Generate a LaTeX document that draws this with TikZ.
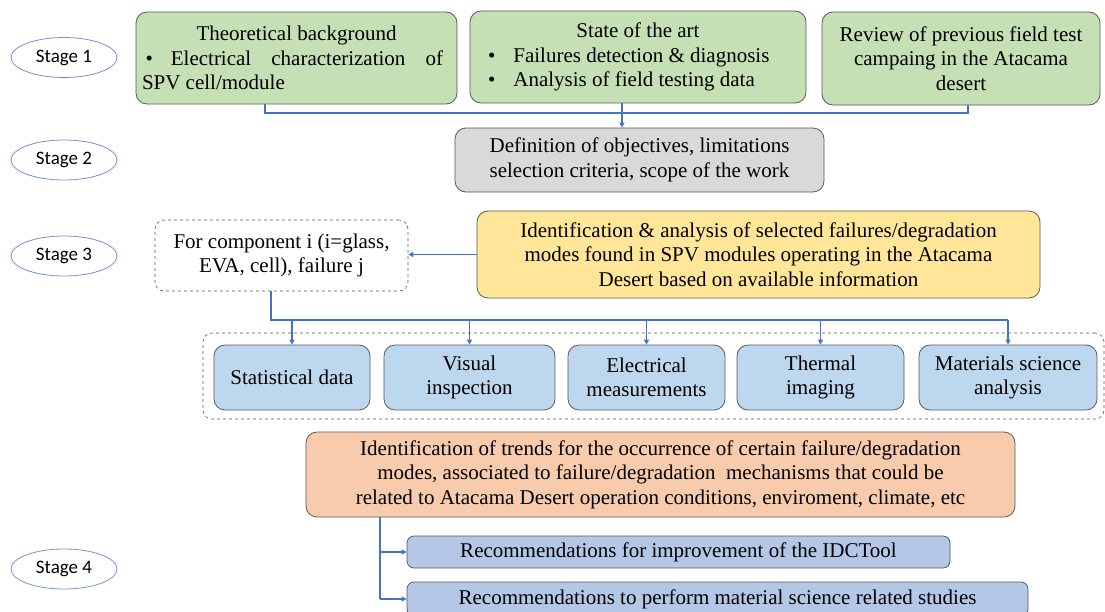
\documentclass[tikz,border=0pt]{standalone}
\usepackage{fontspec}
\setmainfont{Liberation Serif}
\newfontfamily\stagefont{Carlito}
\usetikzlibrary{shapes.geometric,arrows.meta,calc}
\definecolor{gfill}{HTML}{C5E0B4}
\definecolor{grfill}{HTML}{D9D9D9}
\definecolor{yfill}{HTML}{FFE699}
\definecolor{bfill}{HTML}{BDD7EE}
\definecolor{rfill}{HTML}{B4C7E7}
\definecolor{ofill}{HTML}{F8CBAD}
\definecolor{conn}{HTML}{4472C4}
\definecolor{ell}{HTML}{7293D0}
\definecolor{edge}{HTML}{595959}
\begin{document}
\begin{tikzpicture}[x=1pt,y=-1pt,
  box/.style={draw=edge, line width=0.8pt, rounded corners=11pt, align=center, inner sep=2pt,
    font=\fontsize{21}{25.5}\selectfont},
  stage/.style={ellipse, draw=ell, line width=0.8pt, minimum width=106pt, minimum height=40pt,
    inner sep=0pt, font=\stagefont\fontsize{19}{22}\selectfont},
  dbox/.style={draw=edge, dashed, line width=0.6pt, rounded corners=9pt},
  con/.style={draw=conn, line width=1.1pt},
  arr/.style={con, -{Triangle[length=5pt,width=5pt]}}]
\useasboundingbox (0,0) rectangle (1105,611);
% stages
\node[stage] (st1) at (64,57.5) {Stage 1};
\node[stage] (st2) at (64,160) {Stage 2};
\node[stage] (st3) at (64,256) {Stage 3};
\node[stage] (st4) at (64,569) {Stage 4};
% stage 1 boxes
\node[box, fill=gfill, minimum width=321pt, minimum height=92pt] (b1) at (296.5,58)
  {Theoretical background\\[-1pt]
   \hspace*{-8pt}\makebox[301pt][s]{\,\textbullet\hspace{18pt}Electrical characterization of}\\[-1pt]
   \hspace*{-8pt}\makebox[301pt][l]{SPV cell/module}};
\node[box, fill=gfill, minimum width=336pt, minimum height=92pt] (b2) at (638,57)
  {State of the art\\[-1pt]
   \makebox[300pt][l]{\textbullet\hspace{18pt}Failures detection \& diagnosis}\\[-1pt]
   \makebox[300pt][l]{\textbullet\hspace{18pt}Analysis of field testing data}};
\node[box, fill=gfill, minimum width=278pt, minimum height=93pt] (b3) at (961,58.5)
  {Review of previous field test\\[-1pt] campaing in the Atacama\\[-1pt] desert};
% stage 2
\node[box, fill=grfill, minimum width=369pt, minimum height=64pt] (gr) at (639.5,160)
  {Definition of objectives, limitations\\[-1pt] selection criteria, scope of the work};
\coordinate (j1) at (265,113);
\coordinate (j2) at (968,113);
\coordinate (j3) at (622,113);
\draw[con] (b1.south -| j1) -- (j1) -- (j2) -- (b3.south -| j2);
\draw[arr] (b2.south -| j3) -- (gr.north -| j3);
% stage 3
\node[box, dbox, minimum width=253pt, minimum height=71pt] (fc) at (281.5,255.5)
  {For component i (i=glass,\\[-1pt] EVA, cell), failure j};
\node[box, fill=yfill, minimum width=563pt, minimum height=87pt] (yel) at (758.5,254.5)
  {Identification \& analysis of selected failures/degradation\\[-1pt]
   modes found in SPV modules operating in the Atacama\\[-1pt]
   Desert based on available information};
\draw[arr] (yel.west) -- (fc.east |- yel.west);
\node[dbox, minimum width=901pt, minimum height=86pt] (grp) at (653.5,376) {};
\node[box, fill=bfill, minimum width=156pt, minimum height=65pt] (s1) at (292,377.5) {Statistical data};
\node[box, fill=bfill, minimum width=171pt, minimum height=65pt] (s2) at (469.5,377.5) {Visual\\[-1pt] inspection};
\node[box, fill=bfill, minimum width=157pt, minimum height=65pt] (s3) at (646.5,377.5) {Electrical\\[-1pt] measurements};
\node[box, fill=bfill, minimum width=167pt, minimum height=65pt] (s4) at (820.5,377.5) {Thermal\\[-1pt] imaging};
\node[box, fill=bfill, minimum width=178pt, minimum height=65pt] (s5) at (1008,377.5) {Materials science\\[-1pt] analysis};
\coordinate (t0) at (271,320);
\draw[con] (fc.south -| t0) -- (t0) -- (t0 -| s5.north);
\foreach \s in {s1,s2,s3,s4,s5} \draw[arr] (t0 -| \s.north) -- (\s.north);
% stage 4
\node[box, fill=ofill, minimum width=709pt, minimum height=85pt] (or) at (660.5,474.5)
  {Identification of trends for the occurrence of certain failure/degradation\\[-1pt]
   modes, associated to failure/degradation\ \ mechanisms that could be\\[-1pt]
   related to Atacama Desert operation conditions, enviroment, climate, etc};
\node[box, fill=rfill, rounded corners=7pt, minimum width=543pt, minimum height=32pt] (r1) at (678.5,552)
  {Recommendations for improvement of the IDCTool};
\node[box, fill=rfill, rounded corners=7pt, minimum width=621pt, minimum height=34pt] (r2) at (717.5,599)
  {Recommendations to perform material science related studies};
\coordinate (k0) at (380,517);
\draw[con] (or.south -| k0) -- (k0 |- r2.west);
\draw[arr] (k0 |- r1.west) -- (r1.west);
\draw[arr] (k0 |- r2.west) -- (r2.west);
\end{tikzpicture}
\end{document}
